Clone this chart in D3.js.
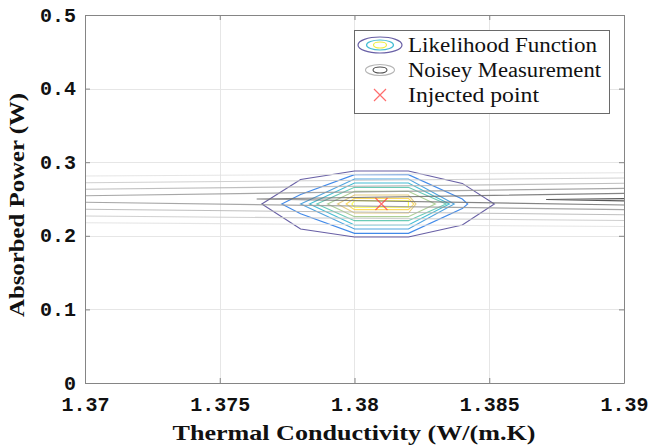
<!DOCTYPE html>
<html><head><meta charset="utf-8">
<script src="https://cdn.jsdelivr.net/npm/d3@7/dist/d3.min.js"></script>
<style>body{margin:0;background:#fff}svg{display:block}</style>
</head><body><svg id="c" width="650" height="445"></svg>
<script>
// ---- data ----
const xTicks = [1.37, 1.375, 1.38, 1.385, 1.39];
const xTickLabels = ["1.37", "1.375", "1.38", "1.385", "1.39"];
const yTicks = [0, 0.1, 0.2, 0.3, 0.4, 0.5];
const yTickLabels = ["0", "0.1", "0.2", "0.3", "0.4", "0.5"];

// Likelihood function contour polygons (outer -> inner), [k, P]
const likelihood1 = [[1.37656,0.2432],[1.378,0.2766],[1.380,0.2880],[1.382,0.2880],[1.384,0.2712],[1.38519,0.2432],[1.384,0.2147],[1.382,0.1984],[1.380,0.1984],[1.378,0.2092]];
const likelihood2 = [[1.3773,0.2432],[1.378,0.2560],[1.380,0.2831],[1.382,0.2831],[1.384,0.2500],[1.3842,0.2432],[1.384,0.2370],[1.382,0.2033],[1.380,0.2033],[1.378,0.2300]];
const likelihood3 = [[1.3780,0.2432],[1.380,0.2772],[1.382,0.2772],[1.3837,0.2432],[1.382,0.2092],[1.380,0.2092]];
const likelihood4 = [[1.37833,0.2432],[1.380,0.2717],[1.382,0.2717],[1.38352,0.2432],[1.382,0.2147],[1.380,0.2147]];
const likelihood5 = [[1.3786,0.2432],[1.380,0.2658],[1.382,0.2658],[1.3834,0.2432],[1.382,0.2206],[1.380,0.2206]];
const likelihood6 = [[1.3790,0.2432],[1.380,0.2604],[1.382,0.2604],[1.3830,0.2432],[1.382,0.2260],[1.380,0.2260]];
const likelihood7 = [[1.37937,0.2432],[1.380,0.2554],[1.382,0.2554],[1.38228,0.2432],[1.382,0.2310],[1.380,0.2310]];
const likelihood8 = [[1.37969,0.2432],[1.380,0.2509],[1.382,0.2509],[1.3822,0.2432],[1.382,0.2355],[1.380,0.2355]];
const likelihood9 = [[1.3799,0.2432],[1.380,0.2477],[1.382,0.2477],[1.3820,0.2432],[1.382,0.2387],[1.380,0.2387]];
const likelihoodContours = [likelihood1, likelihood2, likelihood3, likelihood4, likelihood5, likelihood6, likelihood7, likelihood8, likelihood9];
const likelihoodColors = ["#352a87","#0363e1","#1485d4","#06a7c6","#38b99e","#92bf73","#d9ba56","#fcce2e","#f9fb0e"];

// Noisy measurement contour lines (outer -> inner), each a polyline [k, P]
const noisyA = [[[1.37,0.2813],[1.39,0.2857]], [[1.37,0.2178],[1.39,0.2126]]];
const noisyB = [[[1.37,0.2721],[1.39,0.2785]], [[1.37,0.2269],[1.39,0.2208]]];
const noisyC = [[[1.37,0.2632],[1.39,0.2713]], [[1.37,0.2360],[1.39,0.2287]]];
const noisyD = [[[1.37,0.2545],[1.39,0.2645]], [[1.37,0.2455],[1.39,0.2355]]];
const noisyE = [[[1.39,0.2577],[1.37637,0.2500],[1.39,0.2418]]];
const noisyF = [[[1.39,0.2505],[1.38711,0.2493],[1.39,0.2474]]];
const noisyContours = [noisyA, noisyB, noisyC, noisyD, noisyE, noisyF];
const noisyColors = ["#e0e0e0","#c8c8c8","#b4b4b4","#989898","#6e6e6e","#3a3a3a"];

const injectedPoint = [1.381, 0.2432];
const legendLabels = ["Likelihood Function", "Noisey Measurement", "Injected point"];

// ---- drawing ----
const svg = d3.select("#c");
const L = 85, R = 624, T = 15, B = 383;
const x = d3.scaleLinear().domain([1.37, 1.39]).range([L, R]);
const y = d3.scaleLinear().domain([0, 0.5]).range([B, T]);

svg.append("rect").attr("width", 650).attr("height", 445).attr("fill", "#fff");

svg.append("defs").append("clipPath").attr("id", "clip")
  .append("rect").attr("x", L).attr("y", T).attr("width", R - L).attr("height", B - T);

// grid
const grid = svg.append("g").attr("stroke", "#e6e6e6").attr("stroke-width", 1);
xTicks.slice(1, -1).forEach(t => grid.append("line")
  .attr("x1", Math.round(x(t)) + 0.5).attr("x2", Math.round(x(t)) + 0.5).attr("y1", T).attr("y2", B));
yTicks.slice(1, -1).forEach(t => grid.append("line")
  .attr("y1", Math.round(y(t)) + 0.5).attr("y2", Math.round(y(t)) + 0.5).attr("x1", L).attr("x2", R));

const plot = svg.append("g").attr("clip-path", "url(#clip)");
const line = d3.line().x(d => x(d[0])).y(d => y(d[1]));

likelihoodContours.forEach((pts, i) => {
  plot.append("path").attr("d", line(pts) + "Z")
    .attr("fill", "none").attr("stroke", likelihoodColors[i])
    .attr("stroke-opacity", 0.75).attr("stroke-width", 1.1);
});

noisyContours.forEach((segs, i) => {
  segs.forEach(s => plot.append("path").attr("d", line(s))
    .attr("fill", "none").attr("stroke", noisyColors[i])
    .attr("stroke-opacity", 0.85).attr("stroke-width", 1.1));
});

// injected point marker
function cross(g, cx, cy, s) {
  g.append("path").attr("d", `M${cx - s},${cy - s}L${cx + s},${cy + s}M${cx - s},${cy + s}L${cx + s},${cy - s}`)
    .attr("stroke", "#ff3c3c").attr("stroke-opacity", 0.75).attr("stroke-width", 1.2).attr("fill", "none");
}
cross(plot, x(injectedPoint[0]), y(injectedPoint[1]), 6);

// axes
const axColor = "#858585";
const fmtX = (d, i) => xTickLabels[i];
const fmtY = (d, i) => yTickLabels[i];
const gx = svg.append("g").attr("transform", `translate(0,${B})`)
  .call(d3.axisBottom(x).tickValues(xTicks).tickFormat(fmtX).tickSizeInner(-5).tickSizeOuter(0).tickPadding(14));
const gy = svg.append("g").attr("transform", `translate(${L},0)`)
  .call(d3.axisLeft(y).tickValues(yTicks).tickFormat(fmtY).tickSizeInner(-5).tickSizeOuter(0).tickPadding(9));
const gt = svg.append("g").attr("transform", `translate(0,${T})`)
  .call(d3.axisTop(x).tickValues(xTicks).tickFormat("").tickSizeInner(-5).tickSizeOuter(0));
const gr = svg.append("g").attr("transform", `translate(${R},0)`)
  .call(d3.axisRight(y).tickValues(yTicks).tickFormat("").tickSizeInner(-5).tickSizeOuter(0));
[gx, gy, gt, gr].forEach(g => {
  g.select(".domain").attr("stroke", axColor);
  g.selectAll(".tick line").attr("stroke", axColor);
  g.selectAll("text").attr("font-family", "'Liberation Mono', monospace").attr("font-weight", "bold")
    .attr("font-size", 20).attr("fill", "#111");
});
gy.selectAll("text").attr("dy", "0.3em");

// axis titles
svg.append("text").attr("x", (L + R) / 2 - 0.5).attr("y", 440)
  .attr("text-anchor", "middle").attr("font-family", "'Liberation Serif', serif").attr("font-weight", "bold")
  .attr("font-size", 21).attr("textLength", 363).attr("lengthAdjust", "spacingAndGlyphs")
  .attr("fill", "#111").text("Thermal Conductivity (W/(m.K)");
svg.append("text").attr("transform", "translate(24,205) rotate(-90)")
  .attr("text-anchor", "middle").attr("font-family", "'Liberation Serif', serif").attr("font-weight", "bold")
  .attr("font-size", 21).attr("textLength", 224).attr("lengthAdjust", "spacingAndGlyphs")
  .attr("fill", "#111").text("Absorbed Power (W)");

// legend
const lg = svg.append("g");
lg.append("rect").attr("x", 354.5).attr("y", 30.5).attr("width", 255).attr("height", 83)
  .attr("fill", "#fff").attr("stroke", "#6a6a6a").attr("stroke-width", 1);
const lx = 380;
const ly = [45, 70, 95];
[[22, 8, "#352a87"], [13.5, 5, "#06a7c6"], [6.5, 3, "#e8e800"]].forEach(e =>
  lg.append("ellipse").attr("cx", lx).attr("cy", ly[0]).attr("rx", e[0]).attr("ry", e[1])
    .attr("fill", "none").attr("stroke", e[2]).attr("stroke-opacity", 0.75).attr("stroke-width", 1.2));
[[14.5, 5.5, "#a8a8a8"], [7, 3, "#303030"]].forEach(e =>
  lg.append("ellipse").attr("cx", lx).attr("cy", ly[1]).attr("rx", e[0]).attr("ry", e[1])
    .attr("fill", "none").attr("stroke", e[2]).attr("stroke-opacity", 0.85).attr("stroke-width", 1.1));
cross(lg, lx, ly[2], 6);
const lw = [189, 193, 131];
legendLabels.forEach((t, i) => lg.append("text").attr("x", 408).attr("y", ly[i] + 7)
  .attr("font-family", "'Liberation Serif', serif").attr("font-size", 20)
  .attr("textLength", lw[i]).attr("lengthAdjust", "spacingAndGlyphs").attr("fill", "#111").text(t));
</script></body></html>
